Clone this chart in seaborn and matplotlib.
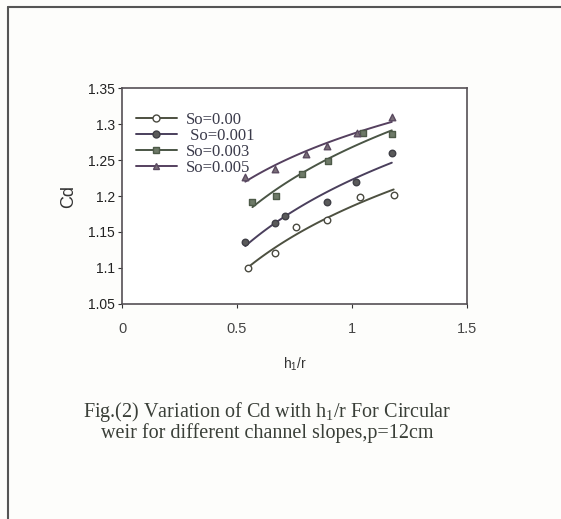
import numpy as np
import pandas as pd
import matplotlib
matplotlib.use("Agg")
import matplotlib.pyplot as plt
from matplotlib.lines import Line2D
import seaborn as sns

# ---- data ----
x_s000 = [0.547, 0.667, 0.757, 0.893, 1.033, 1.181]
y_s000 = [1.100, 1.121, 1.157, 1.167, 1.198, 1.202]

x_s001 = [0.536, 0.664, 0.710, 0.893, 1.017, 1.173]
y_s001 = [1.136, 1.163, 1.172, 1.191, 1.220, 1.260]

x_s003 = [0.567, 0.670, 0.783, 0.896, 1.048, 1.173]
y_s003 = [1.192, 1.200, 1.230, 1.248, 1.287, 1.286]

x_s005 = [0.536, 0.664, 0.799, 0.893, 1.020, 1.173]
y_s005 = [1.227, 1.238, 1.258, 1.270, 1.287, 1.310]

labels = ["So=0.00", " So=0.001", "So=0.003", "So=0.005"]
xticks = [0, 0.5, 1, 1.5]
yticks = [1.05, 1.1, 1.15, 1.2, 1.25, 1.3, 1.35]

series = [(x_s000, y_s000), (x_s001, y_s001), (x_s003, y_s003), (x_s005, y_s005)]
markers = ["o", "o", "s", "^"]
facecols = ["white", "#5a5a5a", "#6e7a68", "#7a6e78"]
edgecols = ["#4a4a40", "#3f3f46", "#4d5a48", "#5a4a60"]
linecols = ["#4d5040", "#4a3f5c", "#4a5545", "#55405f"]

sns.set_style("white")
plt.rcParams["font.family"] = ["Liberation Sans", "DejaVu Sans"]

fig = plt.figure(figsize=(5.61, 5.19), dpi=100)
fig.patch.set_facecolor("#fdfdfb")
ax = fig.add_axes([0.2175, 0.4143, 0.615, 0.4161])
ax.set_facecolor("white")

for (xs, ys), lab, m, fc, ec, lc in zip(series, labels, markers, facecols, edgecols, linecols):
    df = pd.DataFrame({"x": xs, "y": ys})
    sns.regplot(data=df, x="x", y="y", logx=True, ci=None, truncate=True,
                scatter=False, ax=ax, line_kws=dict(color=lc, lw=1.4))
    sns.scatterplot(data=df, x="x", y="y", marker=m, s=22, color=fc,
                    edgecolor=ec, linewidth=1.0, ax=ax, zorder=3)

ax.set_xlim(0, 1.5)
ax.set_ylim(1.05, 1.35)
ax.set_xticks(xticks)
ax.set_xticklabels(["0", "0.5", "1", "1.5"])
ax.set_yticks(yticks)
ax.set_yticklabels(["1.05", "1.1", "1.15", "1.2", "1.25", "1.3", "1.35"])
ax.tick_params(axis="x", labelsize=10.5, colors="#333333", length=3, direction="out",
               bottom=True, pad=10, labelcolor="#444444")
ax.tick_params(axis="y", labelsize=10, colors="#333333", length=3, direction="out",
               left=True, pad=2, labelcolor="#222222")
for sp in ax.spines.values():
    sp.set_color("#555055")
    sp.set_linewidth(1.2)

ax.set_xlabel(r"h$_\mathregular{1}$/r", fontsize=10, color="#333333", labelpad=14)
ax.set_ylabel("Cd", fontsize=13, color="#333333", labelpad=8)

handles = [Line2D([0], [0], color=lc, lw=1.4, marker=m, markersize=5,
                  markerfacecolor=fc, markeredgecolor=ec)
           for m, fc, ec, lc in zip(markers, facecols, edgecols, linecols)]
leg = ax.legend(handles, labels, loc="upper left", bbox_to_anchor=(0.02, 0.92),
                frameon=False, handlelength=2.5, handletextpad=0.5,
                labelspacing=0.0, borderaxespad=0.0,
                prop=dict(family="Liberation Serif", size=12))
for t in leg.get_texts():
    t.set_color("#3a3a4a")

fig.text(0.476, 1 - 412 / 519, r"Fig.(2) Variation of Cd with h$_\mathregular{1}$/r For Circular",
         ha="center", va="center", fontsize=14.5, family="Liberation Serif", color="#3a3f38")
fig.text(0.476, 1 - 433 / 519, "weir for different channel slopes,p=12cm",
         ha="center", va="center", fontsize=14.5, family="Liberation Serif", color="#3a3f38")

# page border (left and top)
fig.add_artist(Line2D([8 / 561, 8 / 561], [0, 1 - 7 / 519], transform=fig.transFigure,
                      color="#555555", lw=1.5))
fig.add_artist(Line2D([8 / 561, 1], [1 - 7 / 519, 1 - 7 / 519], transform=fig.transFigure,
                      color="#555555", lw=1.5))

fig.savefig("out.png", dpi=100, facecolor=fig.get_facecolor())
